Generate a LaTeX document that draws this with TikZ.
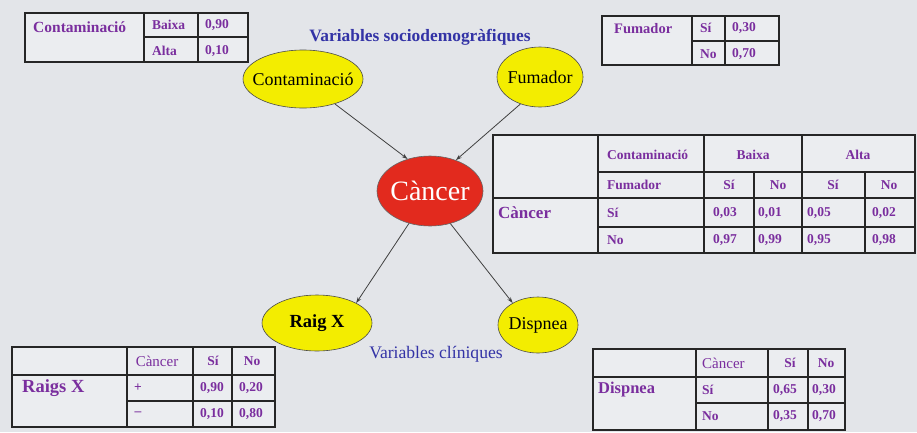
\documentclass[tikz,border=0pt]{standalone}
\usepackage{fontspec}
\setmainfont{Liberation Serif}
\usetikzlibrary{shapes.geometric,arrows.meta}
\definecolor{bg}{HTML}{E3E5E9}
\definecolor{cellbg}{HTML}{EBEDF0}
\definecolor{purp}{HTML}{7A2E9E}
\definecolor{titleblue}{HTML}{3333A6}
\definecolor{ylw}{HTML}{F3ED00}
\definecolor{redn}{HTML}{E22A1E}
\newcommand{\fs}[1]{\fontsize{#1}{#1}\selectfont}
\begin{document}
\begin{tikzpicture}[x=1pt,y=-1pt,
  tline/.style={line width=1.3pt,draw=black!85},
  tbox/.style={tline,fill=cellbg},
  pt/.style={text=purp,font=\fs{13.5}\bfseries,inner sep=0pt},
  ptl/.style={pt,anchor=west},
  preg/.style={text=purp,font=\fs{15},inner sep=0pt},
  ell/.style={ellipse,draw=black!70,line width=0.6pt,fill=ylw,inner sep=0pt,font=\fs{18}},
  arr/.style={draw=black!75,line width=0.8pt,-{Stealth[length=6pt,width=4pt]}},
  ttl/.style={text=titleblue,inner sep=0pt}]
\path[fill=bg,use as bounding box] (0,0) rectangle (917,432);

% titles
\node[ttl,font=\fs{17.4}\bfseries] (t1) at (420,37) {Variables sociodemogràfiques};
\node[ttl,font=\fs{17.6}] (t2) at (436,354) {Variables clíniques};

% top-left table
\draw[tbox] (25,13) rectangle (248,62);
\draw[tline] (144,13) -- (144,62) (198,13) -- (198,62) (144,37) -- (248,37);
\node[ptl,font=\fs{15.5}\bfseries] (c1) at (33,27) {Contaminació};
\node[ptl] (c2) at (152,25) {Baixa};
\node[ptl] (c3) at (152,51) {Alta};
\node[ptl] (c4) at (205,25) {0,90};
\node[ptl] (c5) at (205,51) {0,10};

% Fumador table
\draw[tbox] (602,16) rectangle (779,65);
\draw[tline] (692,16) -- (692,65) (725,16) -- (725,65) (692,41) -- (779,41);
\node[ptl,font=\fs{14.5}\bfseries] (f1) at (614,29) {Fumador};
\node[ptl] (f2) at (700,28) {Sí};
\node[ptl] (f3) at (700,54) {No};
\node[ptl] (f4) at (732,28) {0,30};
\node[ptl] (f5) at (732,54) {0,70};

% Cancer table
\draw[tbox] (493,135) rectangle (915,253);
\draw[tline] (598,135) -- (598,253) (704,135) -- (704,253) (802,135) -- (802,253)
  (754,172) -- (754,253) (865,172) -- (865,253)
  (598,172) -- (915,172) (493,198) -- (915,198) (598,227) -- (915,227);
\node[ptl] (k1) at (607,155) {Contaminació};
\node[pt] (k2) at (753,155) {Baixa};
\node[pt] (k3) at (858,155) {Alta};
\node[ptl] (k4) at (607,185) {Fumador};
\node[pt] (k5) at (729,185) {Sí};
\node[pt] (k6) at (778,185) {No};
\node[pt] (k7) at (833,185) {Sí};
\node[pt] (k8) at (889,185) {No};
\node[ptl,font=\fs{17}\bfseries] (k9) at (498,213) {Càncer};
\node[ptl] (k10) at (607,213) {Sí};
\node[ptl] (k11) at (713,213) {0,03};
\node[ptl] (k12) at (758,213) {0,01};
\node[ptl] (k13) at (807,213) {0,05};
\node[ptl] (k14) at (872,213) {0,02};
\node[ptl] (k15) at (607,240) {No};
\node[ptl] (k16) at (713,240) {0,97};
\node[ptl] (k17) at (758,240) {0,99};
\node[ptl] (k18) at (807,240) {0,95};
\node[ptl] (k19) at (872,240) {0,98};

% Raigs X table
\draw[tbox] (12,347) rectangle (275,427);
\draw[tline] (127,347) -- (127,427) (193,347) -- (193,427) (232,347) -- (232,427)
  (12,375) -- (275,375) (127,401) -- (275,401);
\node[ptl,font=\fs{18.5}\bfseries] (r1) at (22,388) {Raigs X};
\node[preg] (r2) at (157,361) {Càncer};
\node[pt] (r3) at (213,361) {Sí};
\node[pt] (r4) at (252,361) {No};
\node[pt] (r5) at (138,388) {+};
\node[pt] (r6) at (138,414) {--};
\node[ptl] (r7) at (200,388) {0,90};
\node[ptl] (r8) at (239,388) {0,20};
\node[ptl] (r9) at (200,414) {0,10};
\node[ptl] (r10) at (239,414) {0,80};

% Dispnea table
\draw[tbox] (593,349) rectangle (845,430);
\draw[tline] (696,349) -- (696,430) (768,349) -- (768,430) (808,349) -- (808,430)
  (593,377) -- (845,377) (696,403) -- (845,403);
\node[ptl,font=\fs{16.5}\bfseries] (d1) at (598,390) {Dispnea};
\node[preg,anchor=west] (d2) at (702,363) {Càncer};
\node[pt] (d3) at (790,363) {Sí};
\node[pt] (d4) at (826,363) {No};
\node[ptl] (d5) at (702,390) {Sí};
\node[ptl] (d6) at (773,390) {0,65};
\node[ptl] (d7) at (812,390) {0,30};
\node[ptl] (d8) at (702,416) {No};
\node[ptl] (d9) at (773,416) {0,35};
\node[ptl] (d10) at (812,416) {0,70};

% ellipses
\node[ell,minimum width=120pt,minimum height=58pt] (cont) at (303,79) {\makebox[0pt]{Contaminació}};
\node[ell,minimum width=86pt,minimum height=60pt] (fum) at (540,77) {\makebox[0pt]{Fumador}};
\node[ell,fill=redn,draw=black!60,minimum width=106pt,minimum height=70pt,text=white,font=\fs{28}] (canc) at (430,191) {\makebox[0pt]{Càncer}};
\node[ell,minimum width=110pt,minimum height=56pt,font=\fs{18.5}\bfseries] (raig) at (317,323) {\makebox[0pt]{Raig X}};
\node[ell,minimum width=80pt,minimum height=56pt] (disp) at (538,325) {\makebox[0pt]{Dispnea}};

% arrows
\draw[arr] (cont.-38) -- (canc.125);
\draw[arr] (fum.-126) -- (canc.50);
\draw[arr] (canc.-123) -- (raig.27);
\draw[arr] (canc.-58) -- (disp.139);
\end{tikzpicture}
\end{document}
